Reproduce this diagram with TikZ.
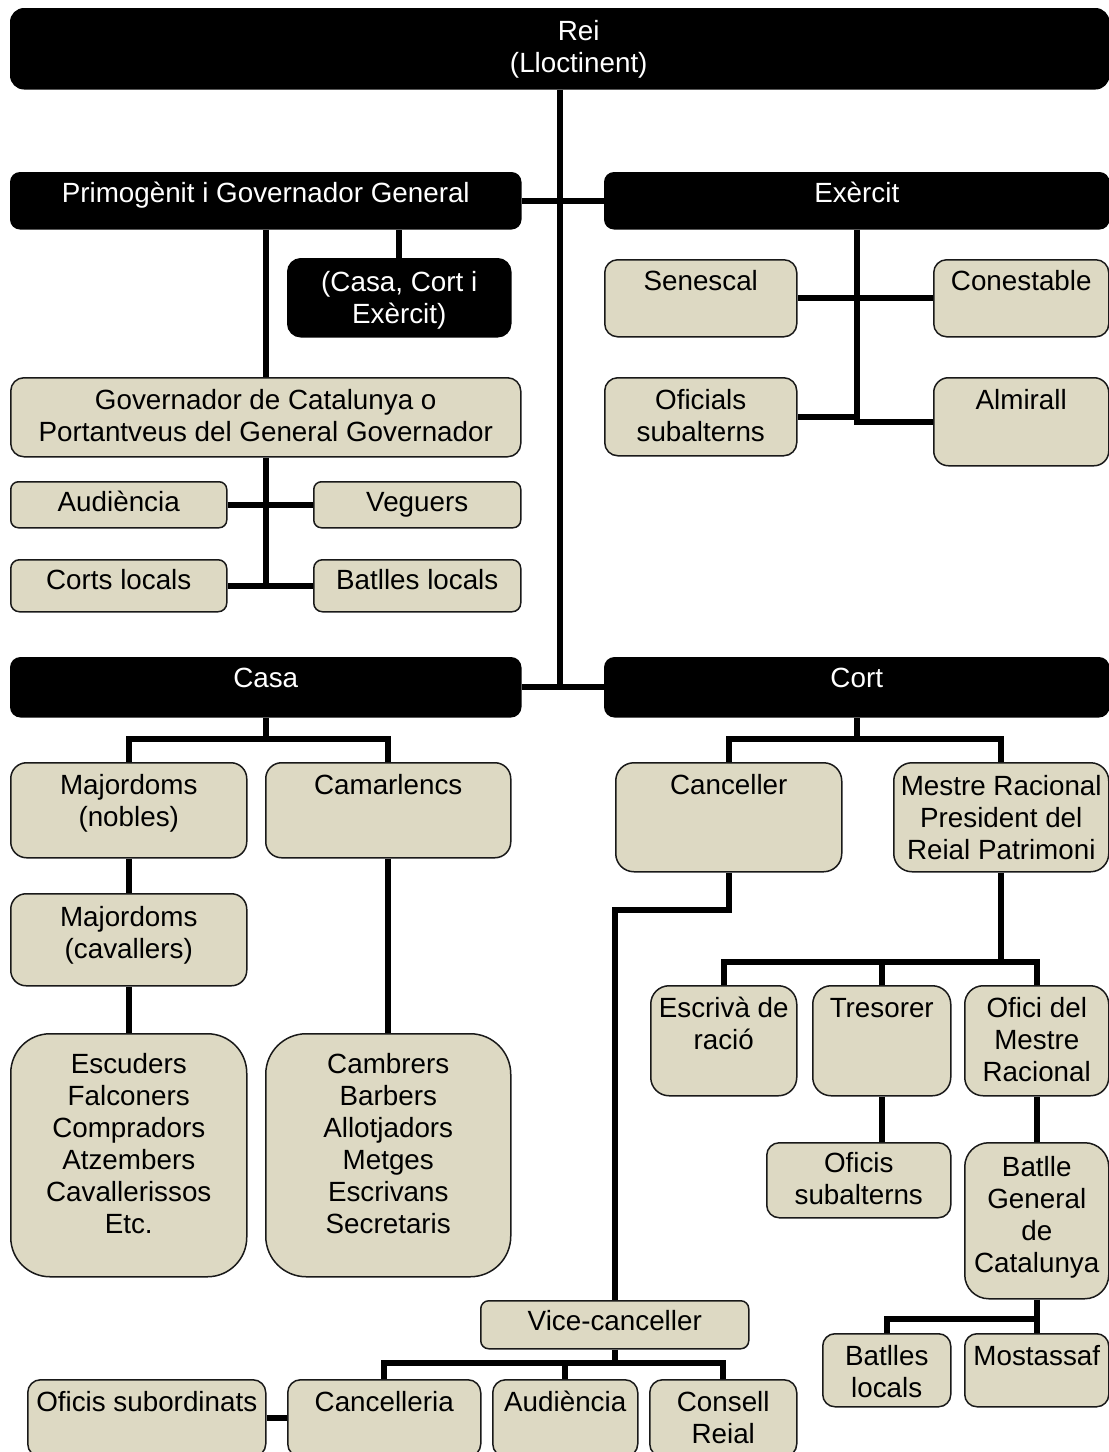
\documentclass[tikz,border=0pt]{standalone}
\usepackage{fontspec}
\setmainfont{Liberation Sans}
\usetikzlibrary{calc}
\definecolor{boxtan}{RGB}{221,217,195}
\newcommand\orgfont{\fontsize{27.8pt}{32pt}\selectfont}
\pgfdeclarelayer{bglayer}
\pgfsetlayers{bglayer,main}
\tikzset{
  dark box/.style={fill=black, draw=black, line width=1.5pt},
  tan box/.style={fill=boxtan, draw=black!90, line width=1.5pt},
  dark text/.style={text=white, inner sep=0pt, align=center, font=\orgfont},
  tan text/.style={text=black, inner sep=0pt, align=center, font=\orgfont},
  conn/.style={draw=black, line width=6pt},
}
% #1 name, #2 kind (dark/tan), #3 x1, #4 y1, #5 x2, #6 y2, #7 first baseline below top, #8 text
\newcommand\orgbox[8]{%
  \pgfmathsetmacro\obW{#5-#3}%
  \pgfmathsetmacro\obH{#6-#4}%
  \pgfmathsetmacro\obR{min(\obW,\obH)/6}%
  \node[#2 box, anchor=north west, inner sep=0pt, minimum width=\obW pt, minimum height=\obH pt, rounded corners=\obR pt] (#1) at (#3,#4) {};
  \node[#2 text, anchor=north] (#1-t) at ([yshift={(22.4-#7)*1pt}]#1.north) {\strut #8};
}
\begin{document}
\begin{tikzpicture}[x=1pt, y=-1pt]
\path[use as bounding box, clip] (0,0) rectangle (1109,1452);

% top
\pgfmathsetmacro\obR{80/6}
\node[dark box, anchor=north west, inner sep=0pt, minimum width=1098pt, minimum height=80pt, rounded corners=\obR pt] (rei) at (10,8) {};
\node[dark text, anchor=north] (rei-t) at ([xshift=19pt, yshift=-9.6pt]rei.north) {\strut Rei\\(Lloctinent)};

\orgbox{primo}{dark}{10}{172}{520}{228}{30}{Primogènit i Governador General}
\orgbox{exer}{dark}{604}{172}{1108}{228}{30}{Exèrcit}
\orgbox{cce}{dark}{287}{258}{510}{336}{33}{(Casa, Cort i\\Exèrcit)}

\orgbox{gov}{tan}{10}{377}{520}{456}{32}{Governador de Catalunya o\\Portantveus del General Governador}
\orgbox{aud}{tan}{10}{481}{226}{527}{30}{Audiència}
\orgbox{veg}{tan}{313}{481}{520}{527}{30}{Veguers}
\orgbox{corts}{tan}{10}{559}{226}{611}{30}{Corts locals}
\orgbox{batl}{tan}{313}{559}{520}{611}{30}{Batlles locals}

\orgbox{sen}{tan}{604}{259}{796}{336}{31}{Senescal}
\orgbox{con}{tan}{933}{259}{1108}{336}{31}{Conestable}
\orgbox{ofis}{tan}{604}{377}{796}{455}{32}{Oficials\\subalterns}
\orgbox{alm}{tan}{933}{377}{1108}{465}{32}{Almirall}

\orgbox{casa}{dark}{10}{657}{520}{716}{30}{Casa}
\orgbox{cort}{dark}{604}{657}{1108}{716}{30}{Cort}

\orgbox{majn}{tan}{10}{762}{246}{857}{32}{Majordoms\\(nobles)}
\orgbox{cam}{tan}{265}{762}{510}{857}{32}{Camarlencs}
\orgbox{majc}{tan}{10}{893}{246}{985}{33}{Majordoms\\(cavallers)}
\orgbox{escu}{tan}{10}{1033}{246}{1276}{40}{Escuders\\Falconers\\Compradors\\Atzembers\\Cavallerissos\\Etc.}
\orgbox{camb}{tan}{265}{1033}{510}{1276}{40}{Cambrers\\Barbers\\Allotjadors\\Metges\\Escrivans\\Secretaris}

\orgbox{canc}{tan}{615}{762}{841}{871}{32}{Canceller}
\orgbox{mr}{tan}{893}{762}{1108}{871}{33}{Mestre Racional\\President del\\Reial Patrimoni}
\orgbox{escr}{tan}{650}{985}{796}{1095}{32}{Escrivà de\\ració}
\orgbox{tres}{tan}{812}{985}{950}{1095}{32}{Tresorer}
\orgbox{ofim}{tan}{964}{985}{1108}{1095}{32}{Ofici del\\Mestre\\Racional}
\orgbox{osub}{tan}{766}{1142}{950}{1217}{30}{Oficis\\subalterns}
\orgbox{bg}{tan}{964}{1142}{1108}{1298}{34}{Batlle\\General\\de\\Catalunya}
\orgbox{bl}{tan}{822}{1333}{950}{1406}{32}{Batlles\\locals}
\orgbox{most}{tan}{964}{1333}{1108}{1406}{32}{Mostassaf}

\orgbox{vice}{tan}{480}{1300}{748}{1348}{30}{Vice-canceller}
\orgbox{osubord}{tan}{27}{1379}{265}{1456}{32}{Oficis subordinats}
\orgbox{cancel}{tan}{287}{1379}{480}{1456}{32}{Cancelleria}
\orgbox{aud2}{tan}{492}{1379}{637}{1456}{32}{Audiència}
\orgbox{cons}{tan}{649}{1379}{796}{1456}{32}{Consell\\Reial}

\begin{pgfonlayer}{bglayer}
\draw[conn] (rei.south) -- (rei.south |- casa.east);
\draw[conn] (casa.east) -- (cort.west);
\draw[conn] (primo.east) -- (exer.west);
\draw[conn] (primo.south) -- (gov.north);
\draw[conn] (cce.north) -- (cce.north |- primo.south);
\draw[conn] (gov.south) -- (gov.south |- corts.east);
\draw[conn] (aud.east) -- (veg.west);
\draw[conn] (corts.east) -- (batl.west);
\draw[conn] (exer.south) -- (exer.south |- alm.west) -- (alm.west);
\draw[conn] (sen.east) -- (con.west);
\draw[conn] (ofis.east) -- (ofis.east -| exer.south);
\draw[conn] (casa.south) -- ++(0,23);
\draw[conn] (majn.north) -- ++(0,-23) -| (cam.north);
\draw[conn] (majn.south) -- (majc.north);
\draw[conn] (majc.south) -- (escu.north);
\draw[conn] (cam.south) -- (camb.north);
\draw[conn] (cort.south) -- ++(0,23);
\draw[conn] (canc.north) -- ++(0,-23) -| (mr.north);
\draw[conn] (canc.south) -- ++(0,37) -| (vice.north);
\draw[conn] (mr.south) -- ++(0,91);
\draw[conn] (escr.north) -- ++(0,-23) -| (ofim.north);
\draw[conn] (tres.north) -- ++(0,-23);
\draw[conn] (tres.south) -- (tres.south |- osub.north);
\draw[conn] (ofim.south) -- (bg.north);
\draw[conn] (bg.south) -- (most.north);
\draw[conn] (bl.north) -- ++(0,-14) -| (bg.south);
\draw[conn] (vice.south) -- ++(0,15);
\draw[conn] (cancel.north) -- ++(0,-16) -| (cons.north);
\draw[conn] (aud2.north) -- ++(0,-16);
\draw[conn] (osubord.east) -- (cancel.west);
\end{pgfonlayer}
\end{tikzpicture}
\end{document}
